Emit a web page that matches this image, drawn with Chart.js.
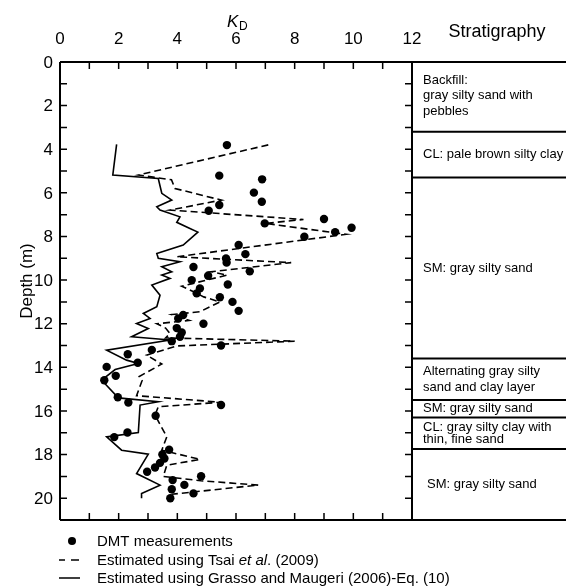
<!DOCTYPE html>
<html>
<head>
<meta charset="utf-8">
<script src="https://cdn.jsdelivr.net/npm/chart.js@4/dist/chart.umd.min.js"></script>
<style>
  html, body { margin: 0; padding: 0; background: #fff; }
  canvas { display: block; }
</style>
</head>
<body>
<canvas id="kdChart" width="566" height="588"></canvas>
<script>
// DMT measurements: depth (m) and KD
const dmtDepth = [3.81, 5.21, 5.38, 5.99, 6.41, 6.56, 6.82, 7.2, 7.4, 7.6, 7.8, 8.01, 8.39, 8.81, 9.01, 9.2, 9.4, 9.6, 9.8, 10.0,
  10.2, 10.38, 10.61, 10.79, 11.0, 11.41, 11.6, 11.76, 12.0, 12.2, 12.4, 12.6, 12.8, 13.0, 13.2, 13.4, 13.79, 13.98, 14.39, 14.59,
  15.37, 15.61, 15.73, 16.22, 16.99, 17.2, 17.78, 18.0, 18.18, 18.38, 18.59, 18.79, 18.99, 19.17, 19.39, 19.59, 19.78, 20.0];
const dmtKD = [5.69, 5.43, 6.89, 6.61, 6.88, 5.43, 5.07, 9.0, 6.98, 9.94, 9.38, 8.33, 6.09, 6.32, 5.66, 5.68, 4.55, 6.47, 5.05, 4.49,
  5.72, 4.77, 4.66, 5.45, 5.88, 6.09, 4.2, 4.03, 4.89, 3.98, 4.15, 4.09, 3.81, 5.49, 3.13, 2.31, 2.65, 1.59, 1.9, 1.51,
  1.97, 2.33, 5.49, 3.26, 2.3, 1.85, 3.72, 3.49, 3.56, 3.41, 3.24, 2.97, 4.81, 3.84, 4.24, 3.81, 4.55, 3.76];

// Estimated using Tsai et al. (2009)
const tsaiDepth = [3.8, 5.18, 5.4, 5.8, 6.33, 6.79, 7.22, 7.4, 7.9, 8.93, 9.2, 9.62, 9.77, 10.28, 10.5, 10.77, 11.0, 11.45, 11.58,
  11.85, 12.0, 12.2, 12.45, 12.65, 12.8, 13.02, 13.44, 13.85, 14.42, 14.6, 15.3, 15.6, 15.81, 16.19, 17.19, 17.8, 18.22, 18.49,
  19.0, 19.2, 19.4, 19.82];
const tsaiKD = [7.1, 2.67, 3.8, 3.92, 5.5, 3.75, 8.3, 7.0, 9.75, 3.98, 7.88, 5.15, 5.7, 4.15, 4.5, 4.9, 5.45, 4.77, 3.8,
  4.4, 3.3, 3.6, 3.75, 3.6, 8.0, 3.98, 2.95, 3.47, 2.7, 2.8, 2.61, 5.49, 3.35, 3.24, 3.64, 3.47, 4.77, 3.64,
  3.52, 4.8, 6.76, 3.8];

// Estimated using Grasso and Maugeri (2006)-Eq. (10)
const grassoDepth = [3.78, 5.18, 5.34, 6.02, 6.33, 6.64, 6.79, 7.1, 7.35, 7.63, 7.8, 8.39, 8.78, 9.0, 9.16, 9.39, 9.62, 9.77,
  9.92, 10.23, 10.69, 11.22, 11.53, 11.76, 11.99, 12.22, 12.6, 12.75, 13.21, 13.67, 13.82, 14.1, 14.59, 15.4, 15.58, 15.73,
  16.99, 17.19, 17.8, 17.98, 18.87, 19.4, 19.79, 20.0];
const grassoKD = [1.93, 1.8, 3.35, 3.47, 3.81, 3.3, 3.41, 4.09, 3.98, 4.43, 4.7, 4.2, 3.3, 3.35, 4.09, 3.47, 3.81, 3.47,
  3.75, 3.13, 3.41, 3.3, 2.84, 3.07, 2.61, 3.01, 2.44, 3.75, 1.59, 2.27, 2.67, 1.88, 1.42, 1.99, 3.35, 2.73,
  2.67, 1.59, 2.1, 3.01, 2.61, 3.41, 2.78, 2.78];

// axes
const xTicks = [0, 2, 4, 6, 8, 10, 12];
const yTicks = [0, 2, 4, 6, 8, 10, 12, 14, 16, 18, 20];

// stratigraphy layers (boundaries in m) and their labels
const layerBounds = [0, 3.2, 5.3, 13.6, 15.5, 16.3, 17.75, 21];
const layerLabels = [
  ['Backfill:', 'gray silty sand with', 'pebbles'],
  ['CL: pale brown silty clay'],
  ['SM: gray silty sand'],
  ['Alternating gray silty', 'sand and clay layer'],
  ['SM: gray silty sand'],
  ['CL: gray silty clay with', 'thin, fine sand'],
  ['SM: gray silty sand']
];

const legendLabels = ['DMT measurements', 'Estimated using Tsai ', 'Estimated using Grasso and Maugeri (2006)-Eq. (10)'];

const FONT = '"Liberation Sans", Arial, sans-serif';

function pairs(ds, ks) {
  return ds.map((d, i) => ({ x: ks[i], y: d }));
}

const framePlugin = {
  id: 'frame',
  afterDraw(chart) {
    const ctx = chart.ctx;
    const xs = chart.scales.x, ys = chart.scales.y;
    const L = xs.getPixelForValue(0), R = xs.getPixelForValue(12);
    const T = ys.getPixelForValue(0), B = ys.getPixelForValue(21);
    const W = chart.width;
    ctx.save();
    ctx.strokeStyle = '#000';
    ctx.fillStyle = '#000';

    // ticks (inward)
    ctx.lineWidth = 1.5;
    ctx.beginPath();
    for (let v = 1; v < 12; v++) {
      const px = xs.getPixelForValue(v);
      ctx.moveTo(px, B); ctx.lineTo(px, B - 7);
      ctx.moveTo(px, T); ctx.lineTo(px, T + 7);
    }
    for (let d = 1; d <= 20; d++) {
      const py = ys.getPixelForValue(d);
      ctx.moveTo(L, py); ctx.lineTo(L + 7, py);
      ctx.moveTo(R, py); ctx.lineTo(R - 7, py);
    }
    ctx.stroke();

    // frame + stratigraphy lines
    ctx.lineWidth = 2;
    ctx.beginPath();
    ctx.moveTo(L, T); ctx.lineTo(L, B);
    ctx.moveTo(R, T); ctx.lineTo(R, B);
    ctx.moveTo(L, B); ctx.lineTo(W, B);
    ctx.moveTo(L, T); ctx.lineTo(W, T);
    layerBounds.slice(1, -1).forEach(d => {
      const py = ys.getPixelForValue(d);
      ctx.moveTo(R, py); ctx.lineTo(W, py);
    });
    ctx.stroke();

    // tick labels
    ctx.font = '17px ' + FONT;
    ctx.textAlign = 'center';
    ctx.textBaseline = 'alphabetic';
    xTicks.forEach(v => ctx.fillText(String(v), xs.getPixelForValue(v), 44));
    ctx.textAlign = 'right';
    ctx.textBaseline = 'middle';
    yTicks.forEach(d => ctx.fillText(String(d), 53, ys.getPixelForValue(d) + 1));

    // axis titles
    ctx.textBaseline = 'alphabetic';
    ctx.textAlign = 'left';
    ctx.font = 'italic 17px ' + FONT;
    ctx.fillText('K', 227, 27);
    ctx.font = '12px ' + FONT;
    ctx.fillText('D', 239, 30);

    ctx.save();
    ctx.translate(32, (T + B) / 2 - 10);
    ctx.rotate(-Math.PI / 2);
    ctx.textAlign = 'center';
    ctx.font = '17px ' + FONT;
    ctx.fillText('Depth (m)', 0, 0);
    ctx.restore();

    ctx.textAlign = 'center';
    ctx.font = '18px ' + FONT;
    ctx.fillText('Stratigraphy', 497, 37);

    // layer labels
    ctx.font = '13px ' + FONT;
    ctx.textAlign = 'left';
    ctx.textBaseline = 'middle';
    layerLabels.forEach((lines, i) => {
      const top = ys.getPixelForValue(layerBounds[i]);
      const bot = ys.getPixelForValue(layerBounds[i + 1]);
      const lh = lines.length > 1 ? (bot - top > 40 ? 15.5 : 12) : 0;
      const cy = i === 0 ? top + 18 : (top + bot) / 2;
      const x0 = i === 6 ? R + 15 : R + 11;
      lines.forEach((t, k) => ctx.fillText(t, x0, cy + k * lh + (i === 0 ? 0 : -(lines.length - 1) * lh / 2)));
    });

    // legend
    ctx.font = '15px ' + FONT;
    const rows = [541, 560, 578];
    ctx.beginPath();
    ctx.arc(72, rows[0], 4, 0, Math.PI * 2);
    ctx.fill();
    ctx.lineWidth = 1.5;
    ctx.beginPath();
    ctx.moveTo(59, rows[1]); ctx.lineTo(65, rows[1]);
    ctx.moveTo(71, rows[1]); ctx.lineTo(79, rows[1]);
    ctx.moveTo(59, rows[2]); ctx.lineTo(80, rows[2]);
    ctx.stroke();
    ctx.fillText(legendLabels[0], 97, rows[0] + 1);
    let x = 97;
    ctx.fillText(legendLabels[1], x, rows[1] + 1);
    x += ctx.measureText(legendLabels[1]).width;
    ctx.font = 'italic 15px ' + FONT;
    ctx.fillText('et al', x, rows[1] + 1);
    x += ctx.measureText('et al').width;
    ctx.font = '15px ' + FONT;
    ctx.fillText('. (2009)', x, rows[1] + 1);
    ctx.fillText(legendLabels[2], 97, rows[2] + 1);
    ctx.restore();
  }
};

new Chart(document.getElementById('kdChart').getContext('2d'), {
  type: 'scatter',
  data: {
    datasets: [
      {
        label: 'Tsai',
        data: pairs(tsaiDepth, tsaiKD),
        showLine: true,
        borderColor: '#000',
        borderWidth: 1.6,
        borderDash: [7, 4],
        pointRadius: 0,
        fill: false
      },
      {
        label: 'Grasso',
        data: pairs(grassoDepth, grassoKD),
        showLine: true,
        borderColor: '#000',
        borderWidth: 1.6,
        pointRadius: 0,
        fill: false
      },
      {
        label: 'DMT',
        data: pairs(dmtDepth, dmtKD),
        showLine: false,
        pointRadius: 4.2,
        pointBackgroundColor: '#000',
        pointBorderColor: '#000',
        pointBorderWidth: 0
      }
    ]
  },
  options: {
    responsive: false,
    animation: false,
    layout: { padding: { left: 60, right: 154, top: 62, bottom: 68 } },
    scales: {
      x: { type: 'linear', min: 0, max: 12, display: false },
      y: { type: 'linear', min: 0, max: 21, reverse: true, display: false }
    },
    plugins: {
      legend: { display: false },
      tooltip: { enabled: false }
    }
  },
  plugins: [framePlugin]
});
</script>
</body>
</html>
